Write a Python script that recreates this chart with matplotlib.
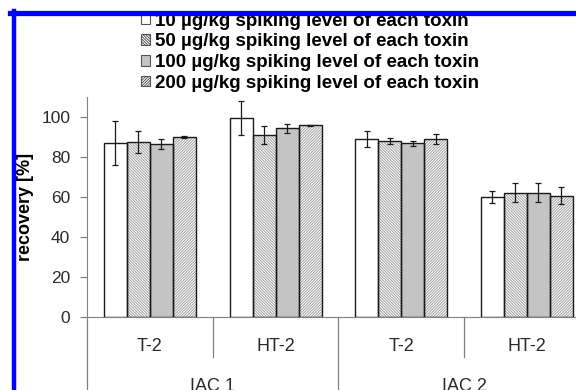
import matplotlib.pyplot as plt
from matplotlib.patches import Patch
from matplotlib.lines import Line2D
import numpy as np

plt.rcParams['font.family'] = ['Liberation Sans', 'DejaVu Sans']
plt.rcParams['hatch.linewidth'] = 0.7

subgroups = ['T-2', 'HT-2', 'T-2', 'HT-2']
groups = ['IAC 1', 'IAC 2']
levels = ['10 µg/kg spiking level of each toxin',
          '50 µg/kg spiking level of each toxin',
          '100 µg/kg spiking level of each toxin',
          '200 µg/kg spiking level of each toxin']

# recovery [%] per spiking level, one value per subgroup
rec_10 = [87.0, 99.5, 89.0, 60.0]
rec_50 = [87.2, 90.7, 87.8, 62.0]
rec_100 = [86.6, 94.2, 86.7, 62.0]
rec_200 = [89.7, 95.8, 89.0, 60.5]
sd_10 = [11.0, 8.5, 4.0, 3.0]
sd_50 = [5.5, 4.5, 1.5, 4.7]
sd_100 = [2.5, 2.2, 1.2, 4.7]
sd_200 = [0.6, 0.3, 2.5, 4.3]

values = [rec_10, rec_50, rec_100, rec_200]
errors = [sd_10, sd_50, sd_100, sd_200]
fills = ['white', 'white', '#c4c4c4', 'white']
hatches = [None, '\\' * 12, None, '/' * 12]

fig = plt.figure(figsize=(5.76, 3.9), dpi=100)
ax = fig.add_axes([87 / 576, 73.3 / 390, 1 - 87 / 576, 220 / 390])

x = np.arange(len(subgroups))
w = 0.183
for i in range(4):
    pos = x + (i - 1.5) * w
    ax.bar(pos, values[i], w, color=fills[i], hatch=hatches[i],
           edgecolor='#a0a0a0', linewidth=0, zorder=2)
    ax.bar(pos, values[i], w, fill=False, edgecolor='#1a1a1a',
           linewidth=1.0, zorder=3)
    ax.errorbar(pos, values[i], yerr=errors[i], fmt='none', ecolor='#1a1a1a',
                elinewidth=0.9, capsize=2.5, capthick=0.9, zorder=4)

ax.set_xlim(-0.5, 3.39)
ax.set_ylim(0, 110)
ax.set_yticks([0, 20, 40, 60, 80, 100])
ax.set_xticks([])
for s in ['top', 'right']:
    ax.spines[s].set_visible(False)
ax.spines['left'].set_color('#808080')
ax.spines['bottom'].set_color('#808080')
ax.tick_params(axis='y', colors='#808080', labelcolor='#2a2a2a', labelsize=12.5,
               length=5, width=0.9, pad=7)
ax.set_ylabel('recovery [%]', fontsize=13, fontweight='bold')
ax.yaxis.set_label_coords(-53 / 489, 0.5)

# category axis below the plot
line_kw = dict(color='#808080', linewidth=0.9, clip_on=False)
ax.plot([-0.5, -0.5], [0, -45], **line_kw)
ax.plot([2.0 - 0.5, 2.0 - 0.5], [0, -45], **line_kw)
for b in [0.5, 2.5]:
    ax.plot([b, b], [0, -20], **line_kw)
for xi, name in zip(x, subgroups):
    ax.text(xi, -15, name, ha='center', va='center', fontsize=13, color='#2a2a2a')
for gi, name in enumerate(groups):
    ax.text(gi * 2 + 0.5, -35, name, ha='center', va='center', fontsize=13,
            color='#2a2a2a')

handles = [Patch(facecolor=fills[i], hatch=hatches[i], edgecolor='#555555',
                 linewidth=0.8) for i in range(4)]
fig.legend(handles, levels, loc='upper left',
           bbox_to_anchor=(141 / 576, 1 - 12.5 / 390), frameon=False,
           prop={'size': 13.5, 'weight': 'bold'}, handlelength=0.5,
           handleheight=0.5, handletextpad=0.25, labelspacing=0.2,
           borderpad=0, borderaxespad=0)

# blue frame of the original figure
fig.add_artist(Line2D([10 / 576, 1], [1 - 12.5 / 390, 1 - 12.5 / 390],
                      color='#0000ff', linewidth=3.8, zorder=10,
                      transform=fig.transFigure))
fig.add_artist(Line2D([14 / 576, 14 / 576], [0, 1 - 10.5 / 390],
                      color='#0000ff', linewidth=3.2, zorder=10,
                      transform=fig.transFigure))

fig.savefig('out.png', dpi=100)
